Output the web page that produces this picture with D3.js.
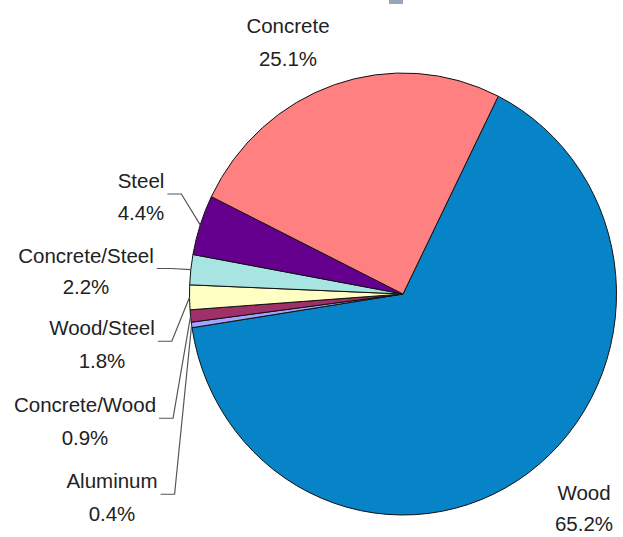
<!DOCTYPE html>
<html>
<head>
<meta charset="utf-8">
<script src="https://cdn.jsdelivr.net/npm/d3@7"></script>
<style>
  html, body { margin: 0; padding: 0; background: #fff; }
  svg { display: block; }
  text { font-family: "Liberation Sans", Arial, sans-serif; fill: #222; }
</style>
</head>
<body>
<svg id="chart" width="623" height="537"></svg>
<script>
// Share of structures by construction material
const categories = ["Wood", "Aluminum", "Concrete/Wood", "Wood/Steel", "Concrete/Steel", "Steel", "Concrete"];
const shares = [65.2, 0.4, 0.9, 1.8, 2.2, 4.4, 25.1];
const shareLabels = ["65.2%", "0.4%", "0.9%", "1.8%", "2.2%", "4.4%", "25.1%"];
const colors = ["#0784c8", "#a4a4ff", "#a0306a", "#ffffc4", "#a8e4e2", "#65008e", "#ff8080"];

// Label placement: block centre x, first baseline y, and whether a leader line is drawn
const labelLayout = [
  { cx: 584, y: 500, gap: 31, leader: false },
  { cx: 112, y: 488, gap: 32.5, leader: true },
  { cx: 85,  y: 412, gap: 32.5, leader: true },
  { cx: 102, y: 335, gap: 32.5, leader: true },
  { cx: 86,  y: 263, gap: 31, leader: true },
  { cx: 141, y: 188, gap: 32, leader: true },
  { cx: 288, y: 33,  gap: 33, leader: false }
];

const svg = d3.select("#chart");
const cx = 403, cy = 294, ry = 221, rx = 213.5;
const fontSize = 20.5;

const rows = categories.map((c, i) => ({ name: c, value: shares[i], label: shareLabels[i], color: colors[i], layout: labelLayout[i] }));

const startDeg = 26.5;
const pie = d3.pie()
  .value(d => d.value)
  .sort(null)
  .startAngle(startDeg * Math.PI / 180)
  .endAngle(startDeg * Math.PI / 180 + 2 * Math.PI);
const arcs = pie(rows);

const arc = d3.arc().innerRadius(0).outerRadius(ry);

// small header fragment at the top edge
svg.append("rect").attr("x", 389).attr("y", 0).attr("width", 14).attr("height", 4)
  .attr("fill", "#7d8ea8").attr("opacity", 0.8);

const pieG = svg.append("g")
  .attr("transform", `translate(${cx},${cy}) scale(${rx / ry},1)`);

pieG.selectAll("path")
  .data(arcs)
  .join("path")
  .attr("d", arc)
  .attr("fill", d => d.data.color)
  .attr("stroke", "#111")
  .attr("stroke-width", 1)
  .attr("vector-effect", "non-scaling-stroke")
  .attr("stroke-linejoin", "round");

// point on the (slightly elliptical) rim at a given angle
const rimPoint = a => [cx + rx * Math.sin(a), cy - ry * Math.cos(a)];

const labelG = svg.append("g");
arcs.forEach(a => {
  const L = a.data.layout;
  const t = labelG.append("text")
    .attr("text-anchor", "middle")
    .attr("font-size", fontSize);
  t.append("tspan").attr("x", L.cx).attr("y", L.y).text(a.data.name);
  t.append("tspan").attr("x", L.cx).attr("y", L.y + L.gap).text(a.data.label);

  if (L.leader) {
    const bb = t.node().getBBox();
    const x0 = bb.x + bb.width + 3;
    const y0 = L.y + L.gap / 2 - 10;
    const mid = (a.startAngle + a.endAngle) / 2;
    const [px, py] = rimPoint(mid);
    const elbowX = Math.min(x0 + 14, px - 6);
    labelG.append("path")
      .attr("d", d3.line()([[x0, y0], [elbowX, y0], [px, py]]))
      .attr("fill", "none")
      .attr("stroke", "#555")
      .attr("stroke-width", 1.2);
  }
});
</script>
</body>
</html>
